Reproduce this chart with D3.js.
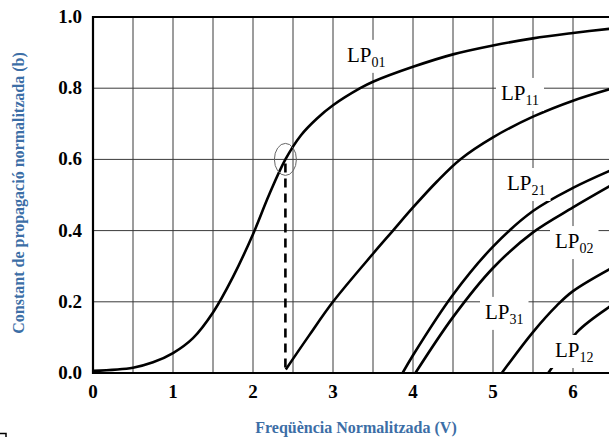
<!DOCTYPE html>
<html>
<head>
<meta charset="utf-8">
<script src="https://cdn.jsdelivr.net/npm/d3@7"></script>
<style>
  body { margin: 0; background: #fff; }
  svg { display: block; }
  .tick-label { font-family: "Liberation Serif", "Times New Roman", serif; font-weight: bold; font-size: 19px; fill: #000; }
  .axis-title { font-family: "Liberation Serif", "Times New Roman", serif; font-weight: bold; font-size: 16px; fill: #3c6ea6; }
  .mode-label { font-family: "Liberation Serif", "Times New Roman", serif; font-size: 21px; fill: #000; }
</style>
</head>
<body>
<div id="chart"></div>
<script>
// curves: [V, b]
const LP01 = [[0, 0.006], [0.5, 0.015], [0.75, 0.03], [1, 0.056], [1.25, 0.098], [1.5, 0.17], [1.75, 0.27], [2, 0.39], [2.2, 0.5], [2.405, 0.6], [2.6, 0.668], [2.8, 0.715], [3, 0.752], [3.34, 0.8], [3.5, 0.818], [4, 0.86], [4.5, 0.895], [5, 0.92], [5.5, 0.94], [6, 0.955], [6.5, 0.968]];
const LP11 = [[2.41, 0.01], [2.7, 0.105], [3, 0.2], [3.5, 0.335], [3.75, 0.4], [4, 0.465], [4.3, 0.538], [4.59, 0.6], [5, 0.662], [5.5, 0.72], [6, 0.765], [6.5, 0.8]];
const LP21 = [[3.87, 0], [4, 0.05], [4.5, 0.22], [5, 0.355], [5.5, 0.455], [6, 0.52], [6.5, 0.572]];
const LP02 = [[4.03, 0], [4.5, 0.157], [5, 0.295], [5.5, 0.395], [6, 0.465], [6.5, 0.53]];
const LP31 = [[5.11, 0], [5.5, 0.115], [5.8, 0.19], [6, 0.23], [6.5, 0.297]];
const LP12 = [[5.69, 0], [5.78, 0.028], [6.05, 0.115], [6.45, 0.185], [6.5, 0.192]];

const curves = [LP01, LP11, LP21, LP02, LP31, LP12];

// labels: text, subscript, V, b (left / baseline in data units)
const labels = [
  ["LP", "01", 3.175, 0.874],
  ["LP", "11", 5.1, 0.767],
  ["LP", "21", 5.175, 0.514],
  ["LP", "02", 5.775, 0.351],
  ["LP", "31", 4.9, 0.152],
  ["LP", "12", 5.775, 0.045]
];

const xTicks = [0, 1, 2, 3, 4, 5, 6];
const yTicks = [0, 0.2, 0.4, 0.6, 0.8, 1.0];
const xGrid = d3.range(0.5, 6.51, 0.5);
const yGrid = [0.2, 0.4, 0.6, 0.8];
const cutoff = 2.405;
const cutoffB = 0.6;

const width = 609, height = 437;
const margin = { top: 17, right: -4, bottom: 64, left: 93 };

const svg = d3.select("#chart").append("svg")
  .attr("width", width)
  .attr("height", height);

const x = d3.scaleLinear().domain([0, 6.5]).range([margin.left, width - margin.right]);
const y = d3.scaleLinear().domain([0, 1]).range([height - margin.bottom, margin.top]);

svg.append("defs").append("clipPath")
  .attr("id", "clip")
  .append("rect")
  .attr("x", margin.left)
  .attr("y", margin.top)
  .attr("width", x(6.5) - margin.left)
  .attr("height", y(0) - margin.top);

// gridlines
svg.append("g").selectAll("line")
  .data(xGrid)
  .enter().append("line")
  .attr("x1", d => x(d)).attr("x2", d => x(d))
  .attr("y1", y(1)).attr("y2", y(0))
  .attr("stroke", "#3a3a3a")
  .attr("stroke-width", 1);

svg.append("g").selectAll("line")
  .data(yGrid)
  .enter().append("line")
  .attr("x1", x(0)).attr("x2", x(6.5))
  .attr("y1", d => y(d)).attr("y2", d => y(d))
  .attr("stroke", "#3a3a3a")
  .attr("stroke-width", 1);

// curves
const line = d3.line()
  .x(d => x(d[0]))
  .y(d => y(d[1]))
  .curve(d3.curveCatmullRom.alpha(0.5));

svg.append("g").attr("clip-path", "url(#clip)")
  .selectAll("path")
  .data(curves)
  .enter().append("path")
  .attr("fill", "none")
  .attr("stroke", "#000")
  .attr("stroke-width", 2.6)
  .attr("d", line);

// dashed cutoff line and circle
svg.append("line")
  .attr("x1", x(cutoff)).attr("x2", x(cutoff))
  .attr("y1", y(cutoffB) + 4).attr("y2", y(0))
  .attr("stroke", "#000")
  .attr("stroke-width", 2.6)
  .attr("stroke-dasharray", "9,6");

svg.append("ellipse")
  .attr("cx", x(cutoff)).attr("cy", y(cutoffB))
  .attr("rx", 11).attr("ry", 16)
  .attr("fill", "none")
  .attr("stroke", "#666")
  .attr("stroke-width", 1);

// frame
svg.append("path")
  .attr("d", `M${x(6.5)},${y(1)}H${x(0)}V${y(0)}H${x(6.5)}`)
  .attr("fill", "none")
  .attr("stroke", "#000")
  .attr("stroke-width", 2.2);

// mode labels with white boxes
labels.forEach(([t, sub, v, b]) => {
  const g = svg.append("g");
  const box = g.append("rect").attr("fill", "#fff");
  const txt = g.append("text")
    .attr("class", "mode-label")
    .attr("x", x(v))
    .attr("y", y(b));
  txt.append("tspan").text(t);
  txt.append("tspan")
    .attr("dy", 5)
    .style("font-size", "14px")
    .text(sub);
  const bb = txt.node().getBBox();
  box.attr("x", bb.x - 5)
    .attr("y", bb.y - 3)
    .attr("width", bb.width + 10)
    .attr("height", bb.height + 6);
});

// tick labels
svg.append("g").selectAll("text")
  .data(yTicks)
  .enter().append("text")
  .attr("class", "tick-label")
  .attr("x", x(0) - 11)
  .attr("y", d => y(d) + 6)
  .attr("text-anchor", "end")
  .text(d => d.toFixed(1));

svg.append("g").selectAll("text")
  .data(xTicks)
  .enter().append("text")
  .attr("class", "tick-label")
  .attr("x", d => x(d))
  .attr("y", y(0) + 25)
  .attr("text-anchor", "middle")
  .text(d => d);

// axis titles
svg.append("text")
  .attr("class", "axis-title")
  .attr("x", 356)
  .attr("y", 433)
  .attr("text-anchor", "middle")
  .text("Freqüència Normalitzada (V)");

svg.append("text")
  .attr("class", "axis-title")
  .attr("transform", "translate(24,193) rotate(-90)")
  .attr("text-anchor", "middle")
  .text("Constant de propagació normalitzada (b)");

// small corner mark at bottom left
svg.append("path")
  .attr("d", "M0,433.5H6V437")
  .attr("fill", "none")
  .attr("stroke", "#000")
  .attr("stroke-width", 1.5);
</script>
</body>
</html>
